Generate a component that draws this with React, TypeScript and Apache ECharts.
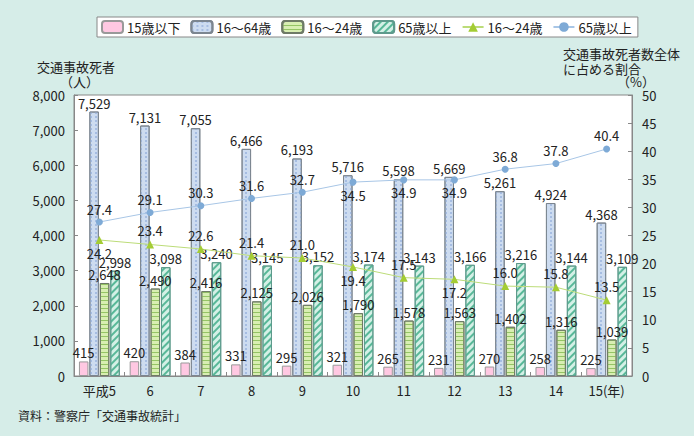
import React, { useEffect, useRef } from "react";
import * as echarts from "echarts";

const categories = ["平成5", "6", "7", "8", "9", "10", "11", "12", "13", "14", "15(年)"];
const under15 = [415, 420, 384, 331, 295, 321, 265, 231, 270, 258, 225];
const age16to64 = [7529, 7131, 7055, 6466, 6193, 5716, 5598, 5669, 5261, 4924, 4368];
const age16to24 = [2648, 2490, 2416, 2125, 2026, 1790, 1578, 1563, 1402, 1316, 1039];
const over65 = [2998, 3098, 3240, 3145, 3152, 3174, 3143, 3166, 3216, 3144, 3109];
const share16to24 = [24.2, 23.4, 22.6, 21.4, 21.0, 19.4, 17.5, 17.2, 16.0, 15.8, 13.5];
const share65 = [27.4, 29.1, 30.3, 31.6, 32.7, 34.5, 34.9, 34.9, 36.8, 37.8, 40.4];
const share16to24Below = [true, false, false, false, false, true, false, true, false, false, false];
const share65Below = [false, false, false, false, false, true, true, true, false, false, false];
const leftTicks = [0, 8000, 1000];
const rightTicks = [0, 50, 5];

const FONT = "'Noto Sans CJK JP', 'Noto Sans', sans-serif";
const TXT = "#222";

export default function App() {
  const ref = useRef<HTMLDivElement>(null);
  useEffect(() => {
    if (!ref.current) return;
    const chart = echarts.init(ref.current, undefined, { renderer: "svg" });
    const fmt = (v: number) => v.toLocaleString("en-US");
    const barLabel = {
      show: true,
      position: "top" as const,
      distance: 2,
      fontSize: 13,
      fontFamily: FONT,
      color: TXT,
      formatter: (p: any) => fmt(p.value),
    };
    const lineLabel = {
      show: true,
      fontSize: 13,
      color: TXT,
      fontFamily: FONT,
      distance: 3,
      formatter: (p: any) => Number(p.value).toFixed(1),
    };
    const option: any = {
      animation: false,
      backgroundColor: "#d6ede8",
      textStyle: { fontFamily: FONT },
      legend: {
        left: 97,
        top: 17,
        itemWidth: 21,
        itemHeight: 12,
        itemGap: 10,
        padding: [3, 6, 3, 4],
        backgroundColor: "#fff",
        borderColor: "#888",
        borderWidth: 1,
        borderRadius: 0,
        textStyle: { fontSize: 13, color: TXT, fontFamily: FONT, padding: [0, 0, 0, -1] },
        data: [
          { name: "15歳以下" },
          { name: "16～64歳" },
          { name: "16～24歳" },
          { name: "65歳以上" },
          { name: "16～24歳 " },
          { name: "65歳以上 " },
        ],
        formatter: (n: string) => n.trim(),
      },
      grid: {
        left: 74,
        right: 62,
        top: 95,
        bottom: 60,
        show: true,
        backgroundColor: "#fff",
        borderColor: "#888",
        borderWidth: 1,
      },
      xAxis: {
        type: "category",
        data: categories,
        axisLine: { lineStyle: { color: "#888" } },
        axisTick: { show: true, inside: true, length: 4, lineStyle: { color: "#888" } },
        axisLabel: { fontSize: 13, color: TXT, fontFamily: FONT, margin: 8 },
      },
      yAxis: [
        {
          type: "value",
          min: leftTicks[0],
          max: leftTicks[1],
          interval: leftTicks[2],
          axisLine: { show: true, lineStyle: { color: "#888" } },
          axisTick: { show: true, inside: true, length: 4, lineStyle: { color: "#888" } },
          splitLine: { show: false },
          axisLabel: { fontSize: 13, color: TXT, fontFamily: FONT, margin: 9, formatter: fmt },
        },
        {
          type: "value",
          min: rightTicks[0],
          max: rightTicks[1],
          interval: rightTicks[2],
          position: "right",
          axisLine: { show: true, lineStyle: { color: "#888" } },
          axisTick: { show: true, inside: true, length: 4, lineStyle: { color: "#888" } },
          splitLine: { show: false },
          axisLabel: { fontSize: 13, color: TXT, fontFamily: FONT, margin: 10 },
        },
      ],
      series: [
        {
          name: "15歳以下",
          type: "bar",
          data: under15,
          barWidth: 9.5,
          barGap: "10%",
          itemStyle: { color: "#ffc8e2", borderColor: "#999", borderWidth: 1 },
          label: barLabel,
        },
        {
          name: "16～64歳",
          type: "bar",
          data: age16to64,
          barWidth: 9.5,
          barGap: "10%",
          itemStyle: {
            color: "#cddcf0",
            borderColor: "#7c8690",
            borderWidth: 1,
            decal: {
              symbol: "rect",
              symbolSize: 1,
              dashArrayX: [1.2, 2.2],
              dashArrayY: [1.2, 1.6],
              color: "#a6bde2",
            },
          },
          label: barLabel,
        },
        {
          name: "16～24歳",
          type: "bar",
          data: age16to24,
          barWidth: 9.5,
          barGap: "10%",
          itemStyle: {
            color: "#d8eeb2",
            borderColor: "#6e7a66",
            borderWidth: 1,
            decal: {
              symbol: "rect",
              symbolSize: 1,
              dashArrayX: [1, 0],
              dashArrayY: [1, 3],
              color: "#94c464",
            },
          },
          label: barLabel,
        },
        {
          name: "65歳以上",
          type: "bar",
          data: over65,
          barWidth: 9.5,
          barGap: "10%",
          itemStyle: {
            color: "#d4f0e6",
            borderColor: "#5e9a8c",
            borderWidth: 1,
            decal: {
              symbol: "rect",
              symbolSize: 1,
              rotation: -Math.PI / 4,
              dashArrayX: [1, 0],
              dashArrayY: [1.8, 2.4],
              color: "#58b898",
            },
          },
          label: barLabel,
        },
        {
          name: "16～24歳 ",
          type: "line",
          yAxisIndex: 1,
          data: share16to24.map((v, i) => ({
            value: v,
            label: { position: share16to24Below[i] ? "bottom" : "top" },
          })),
          symbol: "triangle",
          symbolSize: 8,
          z: 5,
          lineStyle: { color: "#bcdc78", width: 1 },
          itemStyle: { color: "#a4cc34" },
          label: lineLabel,
        },
        {
          name: "65歳以上 ",
          type: "line",
          yAxisIndex: 1,
          data: share65.map((v, i) => ({
            value: v,
            label: { position: share65Below[i] ? "bottom" : "top" },
          })),
          symbol: "circle",
          symbolSize: 7,
          z: 5,
          lineStyle: { color: "#a8c6e6", width: 1 },
          itemStyle: { color: "#7eaad6" },
          label: lineLabel,
        },
      ],
      graphic: [
        { type: "text", left: 37, top: 60, style: { text: "交通事故死者", fontSize: 13, fill: TXT, fontFamily: FONT } },
        { type: "text", left: 60, top: 75, style: { text: "（人）", fontSize: 13, fill: TXT, fontFamily: FONT } },
        { type: "text", left: 563, top: 47, style: { text: "交通事故死者数全体", fontSize: 13, fill: TXT, fontFamily: FONT } },
        { type: "text", left: 563, top: 62, style: { text: "に占める割合", fontSize: 13, fill: TXT, fontFamily: FONT } },
        { type: "text", left: 617, top: 75, style: { text: "（%）", fontSize: 13, fill: TXT, fontFamily: FONT } },
        { type: "text", left: 18, top: 409, style: { text: "資料：警察庁「交通事故統計」", fontSize: 12, fill: TXT, fontFamily: FONT } },
      ],
    };
    chart.setOption(option);
    return () => chart.dispose();
  }, []);
  return <div ref={ref} style={{ width: 694, height: 436, position: "absolute", left: 0, top: 0 }} />;
}
